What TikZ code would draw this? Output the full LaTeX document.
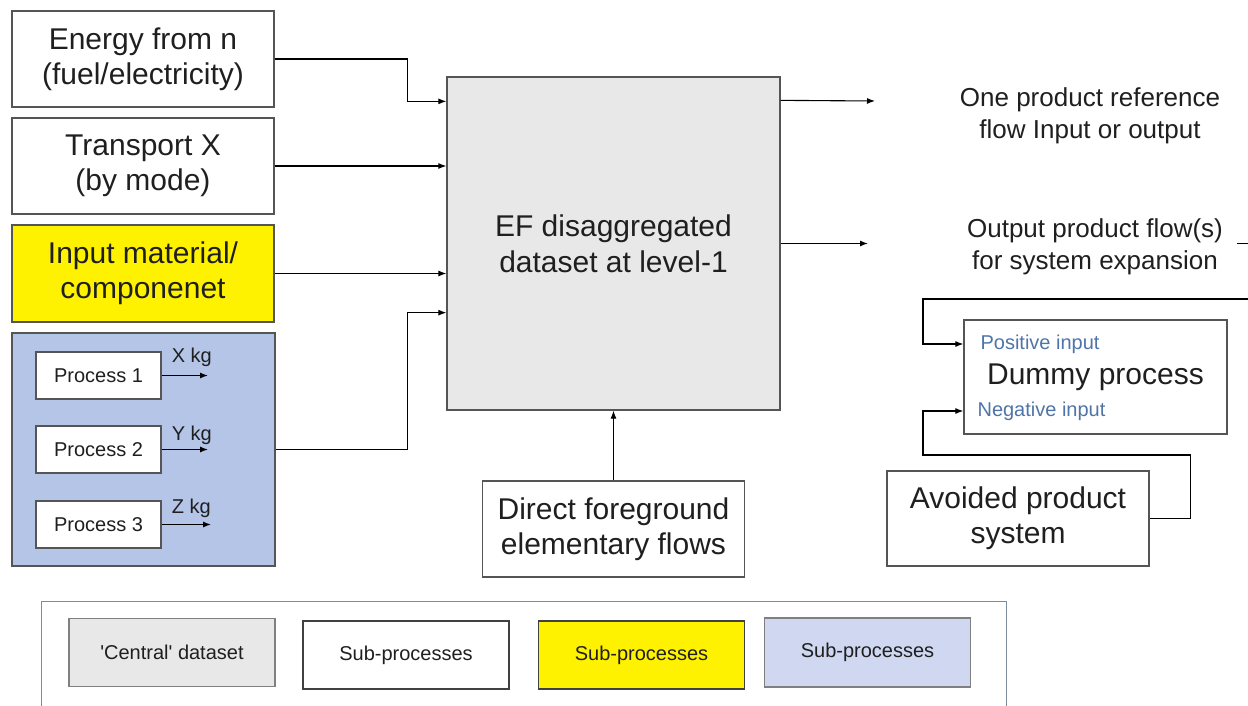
\documentclass[tikz,border=0pt]{standalone}
\usepackage{fontspec}
\setmainfont{Liberation Sans}
\usetikzlibrary{arrows.meta}

\definecolor{efgray}{RGB}{232,232,232}
\definecolor{subblue}{RGB}{180,197,232}
\definecolor{legblue}{RGB}{207,216,240}
\definecolor{inblue}{RGB}{79,116,168}
\definecolor{framegray}{RGB}{125,140,158}
\definecolor{edgegray}{RGB}{85,85,85}

\begin{document}
\begin{tikzpicture}[x=1pt, y=-1pt, line width=1.1pt, >={Latex[length=8pt,width=6pt]},
    every node/.style={inner sep=0pt, align=center, text=black!88},
    box/.style={draw=edgegray, line width=1.3pt, minimum width=262pt, minimum height=96pt,
        font=\fontsize{30}{35}\selectfont},
    procbox/.style={draw=edgegray, fill=white, line width=1.2pt, minimum width=125pt,
        minimum height=47pt, font=\fontsize{20}{24}\selectfont},
    kgtext/.style={font=\fontsize{20}{24}\selectfont},
    flowtext/.style={font=\fontsize{26}{32}\selectfont},
    legbox/.style={line width=1.2pt, minimum width=206pt, minimum height=68pt,
        font=\fontsize{20}{24}\selectfont}]
    \useasboundingbox (0,0) rectangle (1248,705);
    \clip (0,0) rectangle (1248,705);

    % inputs on the left
    \node[box] (energy) at (143,59) {Energy from n\\(fuel/electricity)};
    \node[box] (transport) at (143,166) {Transport X\\(by mode)};
    \node[box, fill=yellow, minimum height=97pt] (material) at (143,273.5) {Input material/\\componenet};
    \node[box, fill=subblue, minimum width=263pt, minimum height=233pt] (group) at (143.5,449.5) {};

    \node[procbox] (proc1) at (98.5,375.5) {Process 1};
    \node[procbox] (proc2) at (98.5,449.5) {Process 2};
    \node[procbox] (proc3) at (98.5,524.5) {Process 3};
    \coordinate (kg1) at (208,375.5);
    \coordinate (kg2) at (208,449.5);
    \coordinate (kg3) at (211,524.5);
    \draw[->] (proc1) -- node[kgtext, above=8pt, pos=0.65]{X kg} (kg1);
    \draw[->] (proc2) -- node[kgtext, above=4pt, pos=0.65]{Y kg} (kg2);
    \draw[->] (proc3) -- node[kgtext, above=6pt, pos=0.6]{Z kg} (kg3);

    % central dataset
    \node[box, fill=efgray, minimum width=333pt, minimum height=333pt] (central) at (613.5,243.5)
        {EF disaggregated\\[1pt]dataset at level-1};
    \node[box] (direct) at (613.5,529) {Direct foreground\\elementary flows};

    \draw[->] (energy.east) -- ++(133,0) |- ([yshift=-25pt]central.north west);
    \draw[->] (transport.east) -- (transport.east -| central.west);
    \draw[->] (material.east) -- (material.east -| central.west);
    \draw[->] (group.east) -- ++(131.5,0) |- ([yshift=98pt]central.south west);
    \draw[->] (direct) -- (central);

    % outputs on the right
    \node[flowtext] (refflow) at (1090,116) {One product reference\\flow Input or output};
    \node[flowtext] (expflow) at (1095,247) {Output product flow(s)\\for system expansion};
    \coordinate (refout) at (875,101);
    \coordinate (expout) at (868,243.5);
    \draw[->] ([yshift=-24pt]central.north east) -- (refout);
    \draw[->] (central.east) -- (expout);

    \node[box, minimum width=263pt, minimum height=114pt] (dummy) at (1095.5,377) {Dummy process};
    \node[kgtext, text=inblue, anchor=west] (posin) at (980,344) {Positive input};
    \node[kgtext, text=inblue, anchor=west] (negin) at (977,411) {Negative input};
    \node[box, minimum height=95pt] (avoided) at (1018,518.5) {Avoided product\\system};

    \coordinate (loopstart) at (1237,243.5);
    \draw[->] (loopstart) -- (1262,243.5) -- (1262,299) -- (923,299) |- (dummy.west |- posin);
    \draw[->] (avoided.east) -- ++(41,0) |- (923,455) |- (dummy.west |- negin);

    % legend
    \node[draw=framegray, line width=1pt, minimum width=965pt, minimum height=140pt] (legend) at (523.5,671) {};
    \node[legbox, draw=gray, fill=efgray] (lgcentral) at (172,652.5) {\textquotesingle Central\textquotesingle{} dataset};
    \node[legbox, draw=black!75, line width=1.6pt, fill=white] (lgwhite) at (406,655) {Sub-processes};
    \node[legbox, draw=black!75, line width=1.6pt, fill=yellow] (lgyellow) at (641.5,655) {Sub-processes};
    \node[legbox, draw=gray, fill=legblue, minimum height=69pt] (lgblue) at (867.5,652.5) {Sub-processes};
\end{tikzpicture}
\end{document}
